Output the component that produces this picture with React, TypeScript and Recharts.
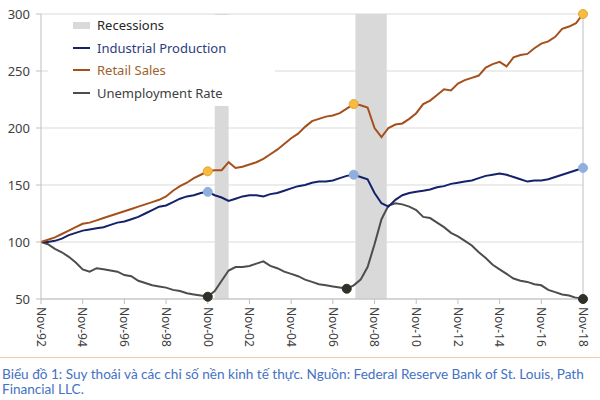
import React from "react";
import {
  CartesianGrid,
  Line,
  LineChart,
  ReferenceArea,
  ReferenceLine,
  XAxis,
  YAxis,
} from "recharts";

// values every 4 months, starting Nov-92 (index 0) up to Nov-18 (index 78)
const retailSales = [
  100, 102, 104, 107, 110, 113, 116, 117, 119, 121, 123, 125, 127, 129, 131, 133,
  135, 137, 140, 145, 149, 152, 156, 159, 162, 163, 163, 170, 165, 166, 168, 170,
  173, 177, 181, 186, 191, 195, 201, 206, 208, 210, 211, 213, 217, 221, 220, 218,
  200, 192, 200, 203, 204, 208, 213, 221, 224, 229, 234, 233, 239, 242, 244, 246,
  253, 256, 258, 254, 262, 264, 265, 270, 274, 276, 280, 287, 289, 292, 300,
];

const industrialProduction = [
  100, 100, 101, 103, 106, 108, 110, 111, 112, 113, 115, 117, 118, 120, 122, 125,
  128, 131, 132, 135, 138, 140, 141, 143, 144, 141, 139, 136, 138, 140, 141, 141,
  140, 142, 143, 145, 147, 149, 150, 152, 153, 153, 154, 156, 158, 159, 157, 155,
  143, 134, 131, 137, 141, 143, 144, 145, 146, 148, 149, 151, 152, 153, 154, 156,
  158, 159, 160, 159, 157, 155, 153, 154, 154, 155, 157, 159, 161, 163, 165,
];

const unemploymentRate = [
  100, 98, 94, 91, 87, 82, 76, 74, 77, 76, 75, 74, 71, 70, 66, 64,
  62, 61, 60, 58, 57, 55, 54, 53, 52, 57, 66, 75, 78, 78, 79, 81,
  83, 79, 77, 74, 72, 70, 67, 65, 63, 62, 61, 60, 59, 62, 67, 78,
  98, 120, 132, 134, 133, 131, 128, 122, 121, 117, 113, 108, 105, 101, 97, 91,
  86, 80, 76, 72, 68, 66, 65, 63, 62, 58, 56, 54, 53, 51, 50,
];

const tickLabels = [
  "Nov-92", "Nov-94", "Nov-96", "Nov-98", "Nov-00", "Nov-02", "Nov-04",
  "Nov-06", "Nov-08", "Nov-10", "Nov-12", "Nov-14", "Nov-16", "Nov-18",
];

// recessions in months since Nov-92
const recessionStart = [100, 181];
const recessionEnd = [108, 199];

const markersIP = [24, 45, 78];
const markersRetail = [24, 45, 78];
const markersUnemp = [24, 44, 78];

const STEP = 4;
const tickMonths = tickLabels.map((_, i) => i * 24);

const data = retailSales.map((v, i) => ({
  m: i * STEP,
  retail: v,
  ip: industrialProduction[i],
  unemp: unemploymentRate[i],
}));

const FONT = "'Noto Sans', sans-serif";
const AXIS_GRAY = "#bfbfbf";

function XTick(props: any) {
  const { x, y, payload } = props;
  const label = tickLabels[tickMonths.indexOf(payload.value)];
  return (
    <text
      transform={`translate(${x},${y}) rotate(90)`}
      dy="0.35em"
      textAnchor="start"
      fontSize={12}
      fill="#404040"
      fontFamily={FONT}
    >
      {label}
    </text>
  );
}

function makeDot(indices: number[], fill: string, stroke: string) {
  return (props: any) => {
    const { cx, cy, index } = props;
    if (!indices.includes(index)) return <g key={`d${index}`} />;
    return (
      <circle
        key={`d${index}`}
        cx={cx}
        cy={cy}
        r={4.5}
        fill={fill}
        stroke={stroke}
        strokeWidth={1}
      />
    );
  };
}

const legendItems = [
  { label: "Recessions", color: "#d9d9d9", text: "#262626", box: true },
  { label: "Industrial Production", color: "#13226b", text: "#2d3b7d" },
  { label: "Retail Sales", color: "#a5501c", text: "#a0612c" },
  { label: "Unemployment Rate", color: "#4d4d4d", text: "#404040" },
];

export default function App() {
  return (
    <div
      style={{
        position: "absolute",
        left: 0,
        top: 0,
        width: 600,
        height: 400,
        background: "#fff",
        fontFamily: FONT,
      }}
    >
      <LineChart
        width={600}
        height={355}
        data={data}
        margin={{ top: 14, right: 17, bottom: 6, left: 0 }}
      >
        <CartesianGrid horizontal vertical={false} stroke="#d9d9d9" />
        {recessionStart.map((s, i) => (
          <ReferenceArea
            key={s}
            x1={s}
            x2={recessionEnd[i]}
            y1={50}
            y2={300}
            fill="#d9d9d9"
            fillOpacity={1}
            stroke="none"
          />
        ))}
        <ReferenceLine x={312} stroke={AXIS_GRAY} />
        <XAxis
          dataKey="m"
          type="number"
          domain={[0, 312]}
          ticks={tickMonths}
          interval={0}
          height={50}
          tickSize={5}
          tickMargin={3}
          stroke={AXIS_GRAY}
          tick={<XTick />}
        />
        <YAxis
          domain={[50, 300]}
          ticks={[50, 100, 150, 200, 250, 300]}
          width={41}
          tickSize={5}
          tickMargin={6}
          stroke={AXIS_GRAY}
          tick={{ fill: "#404040", fontSize: 13, fontFamily: FONT }}
        />
        <Line
          type="linear"
          dataKey="unemp"
          stroke="#4d4d4d"
          strokeWidth={2}
          dot={makeDot(markersUnemp, "#2f3128", "#2f3128")}
          activeDot={false}
          isAnimationActive={false}
        />
        <Line
          type="linear"
          dataKey="ip"
          stroke="#13226b"
          strokeWidth={2}
          dot={makeDot(markersIP, "#8fb0df", "#8fb0df")}
          activeDot={false}
          isAnimationActive={false}
        />
        <Line
          type="linear"
          dataKey="retail"
          stroke="#a5501c"
          strokeWidth={2}
          dot={makeDot(markersRetail, "#f7bc3e", "#e8a53a")}
          activeDot={false}
          isAnimationActive={false}
        />
      </LineChart>

      <div
        style={{
          position: "absolute",
          left: 48,
          top: 15,
          width: 227,
          height: 91,
          background: "#fff",
        }}
      >
        {legendItems.map((item, i) => (
          <div
            key={item.label}
            style={{
              position: "absolute",
              left: 25,
              top: 1 + i * 22.7,
              height: 18,
              display: "flex",
              alignItems: "center",
              whiteSpace: "nowrap",
            }}
          >
            <span
              style={{
                display: "inline-block",
                width: 17,
                height: item.box ? 7 : 2,
                background: item.color,
                marginRight: 7,
              }}
            />
            <span style={{ fontSize: 13, color: item.text }}>{item.label}</span>
          </div>
        ))}
      </div>

      <div
        style={{
          position: "absolute",
          left: 0,
          top: 357,
          width: 600,
          height: 1,
          background: "#f8cbad",
        }}
      />
      <div
        style={{
          position: "absolute",
          left: 2,
          top: 367,
          fontFamily: "Lato, sans-serif",
          fontSize: 13.6,
          lineHeight: "15px",
          color: "#4472c4",
          whiteSpace: "nowrap",
        }}
      >
        Biểu đồ 1: Suy thoái và các chỉ số nền kinh tế thực. Nguồn: Federal Reserve Bank of St. Louis, Path
        <br />
        Financial LLC.
      </div>
    </div>
  );
}
